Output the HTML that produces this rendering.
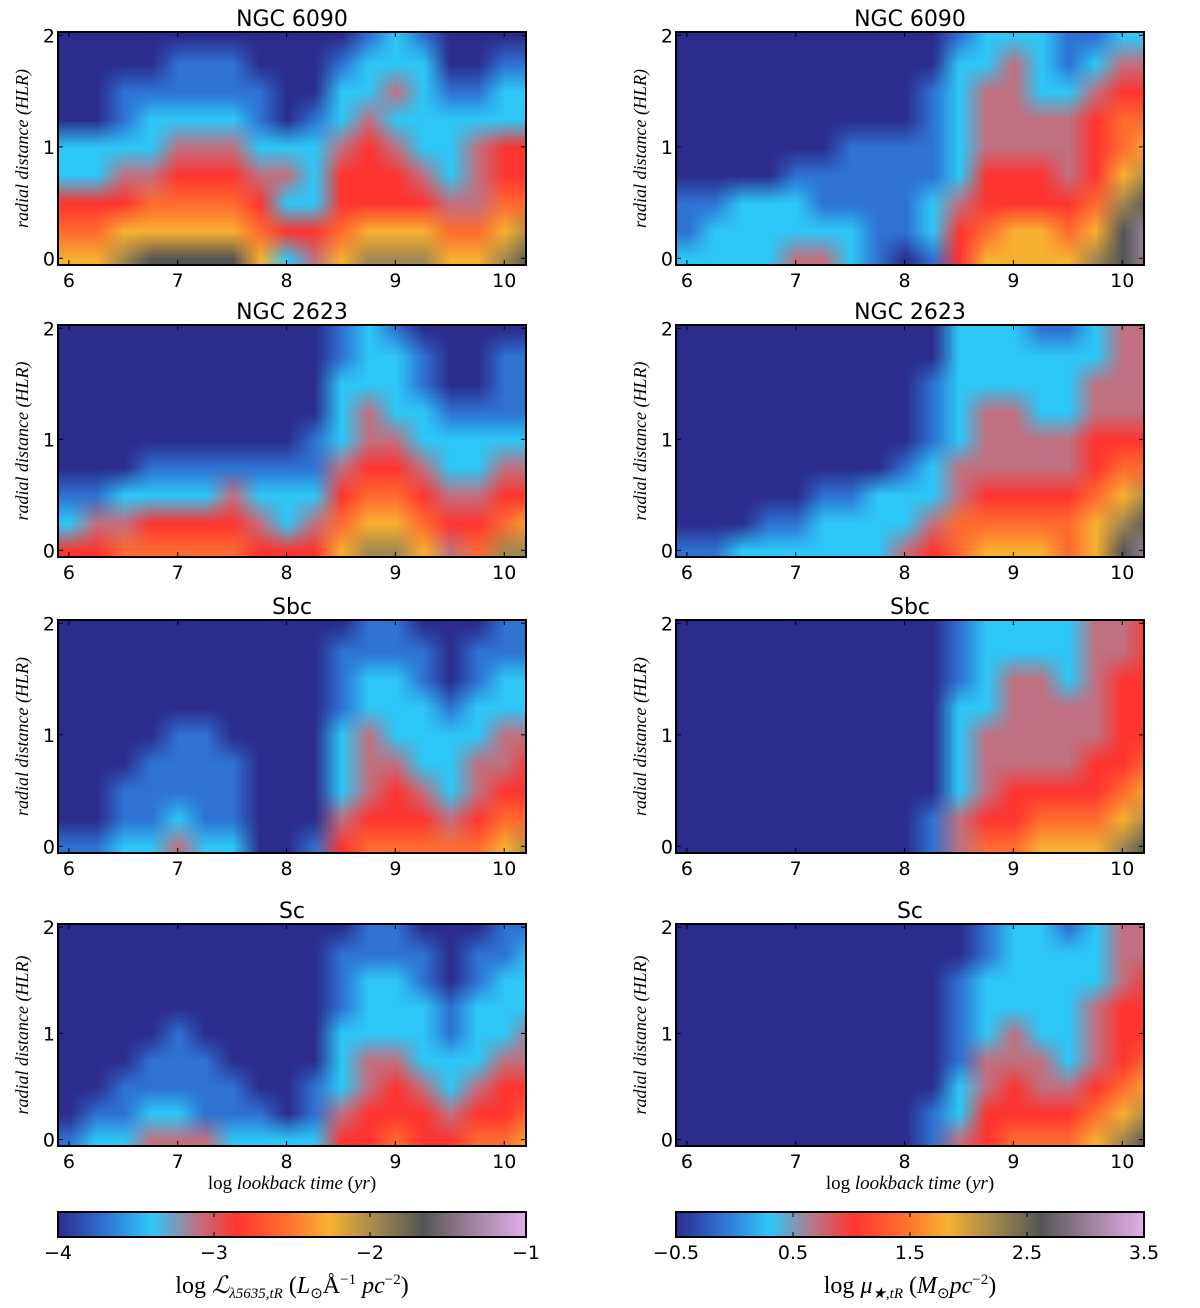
<!DOCTYPE html>
<html><head><meta charset="utf-8">
<style>
body{margin:0;background:#fff;width:1200px;height:1308px;overflow:hidden;position:relative;font-family:"DejaVu Sans","Liberation Sans",sans-serif}
canvas{position:absolute}
svg{position:absolute;left:0;top:0}
</style></head>
<body>
<div id="root"></div>
<svg id="ov" width="1200" height="1308"></svg>
<script>
const xCenters=[6,6.25,6.5,6.75,7,7.25,7.5,7.75,8,8.25,8.5,8.75,9,9.25,9.5,9.75,10,10.25];
const rCenters=[2,1.75,1.5,1.25,1,0.75,0.5,0.25,0];
const xTicks=[6,7,8,9,10];
const yTicks=[0,1,2];
const leftCbTicks=["\u22124","\u22123","\u22122","\u22121"];
const rightCbTicks=["\u22120.5","0.5","1.5","2.5","3.5"];
const titles=["NGC 6090","NGC 2623","Sbc","Sc"];
// colour levels 0..9 per panel (rows top r=2 to bottom r=0)
const L1=[[0,0,0,0,0,0,0,0,0,0,0,1,2,1,0,0,0,0],[0,0,0,0,1,1,1,0,0,0,1,2,2,2,0,0,1,1],[0,0,1,1,1,1,1,1,0,0,2,2,3,2,1,1,2,2],[0,0,1,2,2,2,2,1,0,1,2,3,2,2,2,2,2,2],[2,2,2,2,3,3,3,2,2,2,3,4,3,2,2,3,4,4],[2,2,3,3,4,4,4,3,3,2,4,4,4,3,2,3,4,4],[4,4,4,5,5,5,5,4,2,2,4,4,4,4,3,3,5,5],[5,5,6,6,6,6,6,5,4,4,5,6,6,6,5,5,6,7],[6,6,7,8,8,8,8,6,2,3,6,7,7,7,6,6,7,8]];
const L2=[[0,0,0,0,0,0,0,0,0,0,1,2,1,0,0,0,0,0],[0,0,0,0,0,0,0,0,0,0,1,2,2,1,0,0,1,1],[0,0,0,0,0,0,0,0,0,0,2,2,2,1,0,0,1,1],[0,0,0,0,0,0,0,0,0,0,2,3,2,2,1,1,1,1],[0,0,0,0,0,0,0,0,0,1,2,3,3,2,2,2,2,2],[0,0,0,1,1,1,1,1,1,1,3,4,4,3,2,2,3,3],[1,1,2,2,2,2,3,2,2,2,4,5,5,4,3,3,4,4],[2,3,3,4,4,4,4,3,2,3,5,6,6,5,4,4,5,6],[4,4,5,5,5,5,5,4,4,4,6,7,7,6,3,5,7,7]];
const L3=[[0,0,0,0,0,0,0,0,0,0,0,1,1,0,0,0,1,1],[0,0,0,0,0,0,0,0,0,0,1,1,1,1,0,1,1,1],[0,0,0,0,0,0,0,0,0,0,1,2,2,1,0,1,2,2],[0,0,0,0,0,0,0,0,0,0,1,2,2,2,1,2,2,2],[0,0,0,0,1,1,0,0,0,0,2,3,2,2,2,2,3,3],[0,0,0,1,1,1,1,0,0,0,2,3,3,2,2,3,3,4],[0,0,1,1,1,1,1,0,0,0,2,3,4,3,2,3,4,4],[0,0,1,1,2,1,1,0,0,0,3,4,4,4,3,4,5,5],[1,1,2,2,3,2,2,0,0,1,4,5,5,5,5,5,6,7]];
const L4=[[0,0,0,0,0,0,0,0,0,0,0,1,1,0,0,0,1,1],[0,0,0,0,0,0,0,0,0,0,1,1,1,1,0,1,1,2],[0,0,0,0,0,0,0,0,0,0,1,2,2,1,0,1,2,2],[0,0,0,0,0,0,0,0,0,0,1,2,2,2,1,2,2,2],[0,0,0,0,1,0,0,0,0,0,2,2,2,2,1,2,2,3],[0,0,0,1,1,1,0,0,0,0,2,3,3,2,2,2,3,3],[0,0,1,1,1,1,1,0,0,1,2,3,4,3,2,3,4,4],[0,1,1,2,2,1,1,1,0,1,3,4,4,4,3,4,4,5],[1,2,2,3,3,3,2,2,2,2,4,4,5,4,4,5,5,6]];
const R1=[[0,0,0,0,0,0,0,0,0,0,1,2,2,2,1,1,2,2],[0,0,0,0,0,0,0,0,0,0,2,2,3,2,1,2,3,3],[0,0,0,0,0,0,0,0,0,1,2,3,3,2,2,3,4,4],[0,0,0,0,0,0,0,0,0,1,2,3,3,3,3,4,5,5],[0,0,0,0,0,0,1,1,1,1,2,3,3,3,3,4,5,6],[0,0,0,0,1,1,1,1,1,1,2,4,4,4,3,4,6,7],[1,1,2,2,2,1,1,1,1,2,3,4,4,4,4,5,7,8],[1,2,2,2,2,2,2,1,1,2,4,5,6,6,5,6,8,9],[2,2,2,2,3,3,2,1,0,1,4,6,6,6,6,7,8,9]];
const R2=[[0,0,0,0,0,0,0,0,0,0,2,2,2,1,1,2,3,3],[0,0,0,0,0,0,0,0,0,0,2,2,2,2,2,2,3,3],[0,0,0,0,0,0,0,0,0,1,2,2,2,2,2,3,3,3],[0,0,0,0,0,0,0,0,0,1,2,3,3,2,2,3,3,3],[0,0,0,0,0,0,0,0,0,1,2,3,3,3,3,4,4,4],[0,0,0,0,0,0,0,0,1,2,3,3,3,3,3,4,5,5],[0,0,0,0,0,1,1,2,2,2,3,4,4,4,4,5,6,7],[0,0,0,1,1,2,2,2,2,3,5,5,5,5,5,6,7,8],[1,1,2,2,2,2,2,2,3,4,5,6,6,6,5,6,8,9]];
const R3=[[0,0,0,0,0,0,0,0,0,0,1,2,2,2,2,3,3,4],[0,0,0,0,0,0,0,0,0,0,1,2,2,2,2,3,3,4],[0,0,0,0,0,0,0,0,0,0,1,2,3,3,2,3,4,4],[0,0,0,0,0,0,0,0,0,0,2,2,3,3,3,3,4,4],[0,0,0,0,0,0,0,0,0,0,2,3,3,3,3,3,4,4],[0,0,0,0,0,0,0,0,0,0,2,3,3,3,3,4,4,5],[0,0,0,0,0,0,0,0,0,0,2,3,4,4,4,4,5,6],[0,0,0,0,0,0,0,0,0,1,3,4,4,5,5,5,6,7],[0,0,0,0,0,0,0,0,0,1,3,5,5,6,6,6,7,8]];
const R4=[[0,0,0,0,0,0,0,0,0,0,0,1,2,2,1,2,3,3],[0,0,0,0,0,0,0,0,0,0,0,1,2,2,2,2,3,3],[0,0,0,0,0,0,0,0,0,0,1,2,2,2,2,2,3,4],[0,0,0,0,0,0,0,0,0,0,1,2,2,2,2,3,4,4],[0,0,0,0,0,0,0,0,0,0,1,2,3,2,2,3,4,4],[0,0,0,0,0,0,0,0,0,0,1,3,3,3,2,3,4,5],[0,0,0,0,0,0,0,0,0,0,2,3,4,3,3,4,5,6],[0,0,0,0,0,0,0,0,0,1,2,4,4,4,4,5,6,7],[0,0,0,0,0,0,0,0,0,1,3,4,5,5,5,6,7,8]];

const levelColors=["#2b2c8c","#2f72d2","#2ec8f8","#c07080","#ff3530","#ff6a30","#f8b030","#a08850","#555555","#a88ca8"];
const gradStops=[[0,"#2b2c8c"],[0.1,"#2f72d2"],[0.2,"#2ec8f8"],[0.3,"#c07080"],[0.38,"#ff3530"],[0.48,"#ff6a30"],[0.58,"#f8b030"],[0.68,"#a08850"],[0.78,"#555555"],[0.88,"#9a8098"],[1,"#e0b0e8"]];

const XMIN=5.9,XMAX=10.2,YMIN=-0.06,YMAX=2.03;
const cols=[58,676];
const rows=[[32,265],[325,557],[620,853],[924,1146]];
const grids=[[L1,R1],[L2,R2],[L3,R3],[L4,R4]];
const PW=468;
const NS="http://www.w3.org/2000/svg";
const ov=document.getElementById('ov');
const root=document.getElementById('root');
function el(tag,attrs,txt){const e=document.createElementNS(NS,tag);for(const k in attrs)e.setAttribute(k,attrs[k]);if(txt!==undefined)e.textContent=txt;ov.appendChild(e);return e;}

for(let ri=0;ri<4;ri++){
 for(let ci=0;ci<2;ci++){
  const left=cols[ci],top=rows[ri][0],bot=rows[ri][1],H=bot-top;
  const X=v=>left+(v-XMIN)/(XMAX-XMIN)*PW;
  const Y=v=>bot-(v-YMIN)/(YMAX-YMIN)*H;
  const grid=grids[ri][ci];
  const off=document.createElement('canvas');off.width=xCenters.length;off.height=rCenters.length;
  const oc=off.getContext('2d');
  for(let r=0;r<rCenters.length;r++)for(let c=0;c<xCenters.length;c++){oc.fillStyle=levelColors[grid[r][c]];oc.fillRect(c,r,1,1);}
  const cv=document.createElement('canvas');
  
  
  cv.width=PW;cv.height=H;cv.style.left=left+'px';cv.style.top=top+'px';
  const ctx=cv.getContext('2d');ctx.imageSmoothingEnabled=true;
  const dx=X(xCenters[0]-0.125)-left, dw=X(xCenters[xCenters.length-1]+0.125)-X(xCenters[0]-0.125);
  const dy=Y(rCenters[0]+0.125)-top, dh=Y(rCenters[rCenters.length-1]-0.125)-Y(rCenters[0]+0.125);
  ctx.drawImage(off,0,0,off.width,off.height,dx,dy,dw,dh);
  root.appendChild(cv);
  const fr=el('rect',{x:left,y:top,width:PW,height:H,fill:'none',stroke:'#000','stroke-width':2});
  
  
  xTicks.forEach(t=>{
   el('line',{x1:X(t),x2:X(t),y1:bot,y2:bot-5,stroke:'#000'});
   el('line',{x1:X(t),x2:X(t),y1:top,y2:top+5,stroke:'#000'});
   const tl=el('text',{x:X(t),y:bot+22,'font-size':19,'text-anchor':'middle'},String(t));
   
   
  });
  yTicks.forEach(t=>{
   el('line',{x1:left,x2:left+5,y1:Y(t),y2:Y(t),stroke:'#000'});
   el('line',{x1:left+PW,x2:left+PW-5,y1:Y(t),y2:Y(t),stroke:'#000'});
   const tl=el('text',{x:left-3,y:Y(t)+7,'font-size':19,'text-anchor':'end'},String(t));
   
   
  });
  const tt=el('text',{x:left+PW/2,y:top-6,'font-size':22,'text-anchor':'middle'},titles[ri]);
  
  
  const cy=(top+bot)/2;
  const yl=el('text',{x:left-30,y:cy,'font-size':18,'font-style':'italic','font-family':'Liberation Serif, serif','text-anchor':'middle',transform:`rotate(-90 ${left-30} ${cy})`},'radial distance (HLR)');
  
  
  if(ri===3){
   const xl=el('text',{x:left+PW/2,y:bot+43,'font-size':19,'font-family':'Liberation Serif, serif','text-anchor':'middle'});
   
   
   xl.innerHTML='log <tspan font-style="italic">lookback time</tspan> (<tspan font-style="italic">yr</tspan>)';
  }
 }
}
// colorbars
const defs=el('defs',{});
const lg=document.createElementNS(NS,'linearGradient');lg.setAttribute('id','cm');defs.appendChild(lg);
gradStops.forEach(s=>{const st=document.createElementNS(NS,'stop');st.setAttribute('offset',s[0]);st.setAttribute('stop-color',s[1]);lg.appendChild(st);});
[[cols[0],leftCbTicks],[cols[1],rightCbTicks]].forEach(([cx,ticks],i)=>{
 const cb=el('rect',{x:cx,y:1212,width:PW,height:25,fill:'url(#cm)',stroke:'#000','stroke-width':2});
 
 
 ticks.forEach((t,k)=>{
  const x=cx+k/(ticks.length-1)*PW;
  el('line',{x1:x,x2:x,y1:1237,y2:1232,stroke:'#000'});
  el('line',{x1:x,x2:x,y1:1212,y2:1217,stroke:'#000'});
  const tl=el('text',{x:x,y:1259,'font-size':19,'text-anchor':'middle'},t);
  
  
 });
});
const c1=el('text',{x:cols[0]+PW/2,y:1293,'font-size':24,'font-family':'Liberation Serif, serif','text-anchor':'middle'});


c1.innerHTML='log <tspan font-style="italic">ℒ</tspan><tspan font-size="15" dy="5" font-style="italic">λ5635,tR</tspan><tspan dy="-5"> (</tspan><tspan font-style="italic">L</tspan><tspan font-size="15" dy="5">⊙</tspan><tspan dy="-5">Å</tspan><tspan font-size="15" dy="-9">−1</tspan><tspan dy="9" font-style="italic"> pc</tspan><tspan font-size="15" dy="-9">−2</tspan><tspan dy="9">)</tspan>';
const c2=el('text',{x:cols[1]+PW/2,y:1293,'font-size':24,'font-family':'Liberation Serif, serif','text-anchor':'middle'});


c2.innerHTML='log <tspan font-style="italic">μ</tspan><tspan font-size="15" dy="5" font-style="italic">★,tR</tspan><tspan dy="-5"> (</tspan><tspan font-style="italic">M</tspan><tspan font-size="15" dy="5">⊙</tspan><tspan dy="-5" font-style="italic">pc</tspan><tspan font-size="15" dy="-9">−2</tspan><tspan dy="9">)</tspan>';
</script>
</body></html>
